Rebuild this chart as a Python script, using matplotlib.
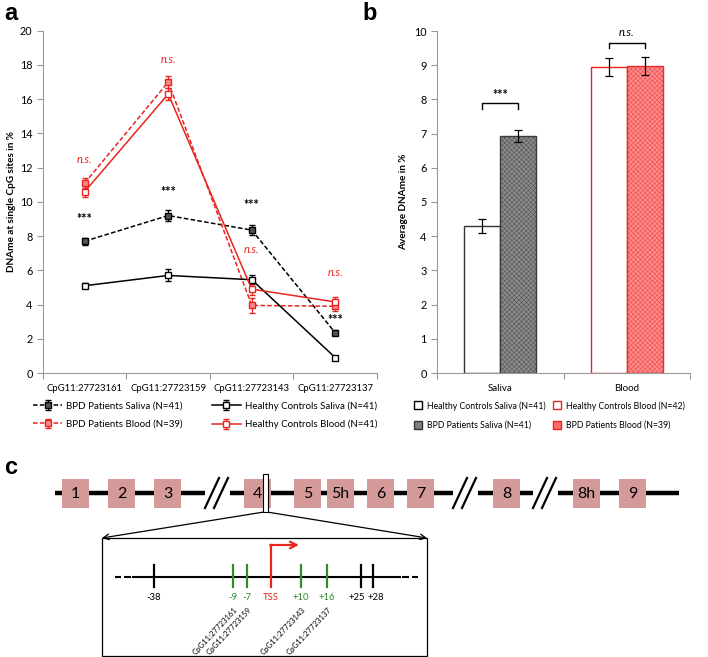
import matplotlib
matplotlib.use("Agg")
import matplotlib.pyplot as plt
from matplotlib.patches import Rectangle
from matplotlib.lines import Line2D
import numpy as np

plt.rcParams['font.family'] = ['Lato', 'DejaVu Sans']
plt.rcParams['hatch.linewidth'] = 0.25

# ---- data panel a ----
sites = ['CpG11:27723161', 'CpG11:27723159', 'CpG11:27723143', 'CpG11:27723137']
bpd_saliva = [7.7, 9.2, 8.35, 2.35]
bpd_saliva_err = [0.2, 0.3, 0.3, 0.15]
hc_saliva = [5.1, 5.7, 5.45, 0.9]
hc_saliva_err = [0.15, 0.35, 0.25, 0.1]
bpd_blood = [11.1, 17.0, 3.95, 3.9]
bpd_blood_err = [0.3, 0.35, 0.45, 0.3]
hc_blood = [10.6, 16.3, 4.9, 4.15]
hc_blood_err = [0.3, 0.35, 0.35, 0.3]
stars_y = [9.0, 10.6, 9.8, 3.1]
ns_y = [12.5, 18.3, 7.2, 5.9]

# ---- data panel b ----
tissues = ['Saliva', 'Blood']
hc_avg = [4.3, 8.95]
hc_avg_err = [0.2, 0.26]
bpd_avg = [6.92, 8.98]
bpd_avg_err = [0.18, 0.26]
sig_b = ['***', 'n.s.']
bracket_y = [7.9, 9.66]

# ---- gene diagram (schematic, pixel units) ----
exon_labels = ['1', '2', '3', '4', '5', '5h', '6', '7', '8', '8h', '9']
exon_x = [62, 108, 154, 244, 294, 327, 367, 407, 493, 573, 619]
breaks_x = [205, 453, 533]
site_labels = ['-38', '-9', '-7', 'TSS', '+10', '+16', '+25', '+28']
site_x = [154, 233, 247, 271, 301, 327, 361, 373]
site_label_x = [154, 233, 247, 271, 301, 327, 357, 376]
site_col = ['black', 'g', 'g', 'r', 'g', 'g', 'black', 'black']
cpg_names = ['CpG11:27723161', 'CpG11:27723159', 'CpG11:27723143', 'CpG11:27723137']
cpg_x = [233, 247, 301, 327]

W, H = 708, 657
GREEN = '#2e8b2e'
RED = '#e8251f'


def rect(x0, y0, x1, y1):
    return [x0 / W, 1 - y1 / H, (x1 - x0) / W, (y1 - y0) / H]


fig = plt.figure(figsize=(W / 100, H / 100), dpi=100)

# diagram axes in pixel coordinates
axc = fig.add_axes([0, 0, 1, 1])
axc.set_xlim(0, W)
axc.set_ylim(H, 0)
axc.axis('off')

ax = fig.add_axes(rect(43, 30.7, 377, 373))
axb = fig.add_axes(rect(437, 31, 690, 373))

# ================= panel a =================
x = np.arange(1, 5)
dash = (0, (3, 1.5))
ax.errorbar(x, bpd_saliva, yerr=bpd_saliva_err, color='black', ls=dash, lw=1.1,
            marker='s', ms=4.5, mfc='#555555', mec='black', capsize=2, elinewidth=0.9,
            label='BPD Patients Saliva (N=41)', zorder=3)
ax.errorbar(x, bpd_blood, yerr=bpd_blood_err, color=RED, ls=dash, lw=1.1,
            marker='s', ms=4.5, mfc='#f48a8a', mec=RED, capsize=2, elinewidth=0.9,
            label='BPD Patients Blood (N=39)', zorder=3)
ax.errorbar(x, hc_saliva, yerr=hc_saliva_err, color='black', ls='-', lw=1.1,
            marker='s', ms=4.5, mfc='white', mec='black', capsize=2, elinewidth=0.9,
            label='Healthy Controls Saliva (N=41)', zorder=3)
ax.errorbar(x, hc_blood, yerr=hc_blood_err, color=RED, ls='-', lw=1.1,
            marker='s', ms=4.5, mfc='white', mec=RED, capsize=2, elinewidth=0.9,
            label='Healthy Controls Blood (N=41)', zorder=3)

for xi, sy, ny in zip(x, stars_y, ns_y):
    ax.text(xi, sy, '***', ha='center', va='center', fontsize=9, fontweight='bold')
    ax.text(xi, ny, 'n.s.', ha='center', va='center', fontsize=8, style='italic', color=RED)

ax.set_xlim(0.5, 4.5)
ax.set_ylim(0, 20)
ax.set_yticks(range(0, 21, 2))
ax.set_xticks([0.5, 1.5, 2.5, 3.5, 4.5])
ax.set_xticklabels([])
ax.set_xticks(x, minor=True)
ax.set_xticklabels(sites, minor=True, fontsize=6.8)
ax.tick_params(axis='x', which='minor', length=0, pad=8)
ax.tick_params(axis='x', which='major', length=4, color='#999999', direction='out')
ax.tick_params(axis='y', length=4, color='#999999', labelsize=7.8)
for s in ['top', 'right']:
    ax.spines[s].set_visible(False)
for s in ['left', 'bottom']:
    ax.spines[s].set_color('#999999')
ax.set_ylabel('DNAme at single CpG sites in %', fontsize=7.2, fontweight='bold', labelpad=3)

h, l = ax.get_legend_handles_labels()
fig.legend(h, l, loc='upper left', bbox_to_anchor=(33 / W, 1 - 401 / H), ncol=2,
           frameon=False, fontsize=7, handlelength=3.0, handletextpad=0.4,
           columnspacing=3.0, labelspacing=0.95, borderpad=0, borderaxespad=0)

# ================= panel b =================
xb = np.arange(len(tissues))
bw = 0.285
ekw = dict(ecolor='black', capsize=3, elinewidth=0.9, capthick=0.9)
axb.bar(xb[0] - bw / 2, hc_avg[0], bw, yerr=hc_avg_err[0], color='white', edgecolor='#333333',
        lw=1, error_kw=ekw, label='Healthy Controls Saliva (N=41)')
axb.bar(xb[0] + bw / 2, bpd_avg[0], bw, yerr=bpd_avg_err[0], color='#8a8a8a', edgecolor='#3a3a3a',
        hatch='xxxxxxx', lw=1, error_kw=ekw, label='BPD Patients Saliva (N=41)')
axb.bar(xb[1] - bw / 2, hc_avg[1], bw, yerr=hc_avg_err[1], color='white', edgecolor=RED,
        lw=1, error_kw=ekw, label='Healthy Controls Blood (N=42)')
axb.bar(xb[1] + bw / 2, bpd_avg[1], bw, yerr=bpd_avg_err[1], color='#ff8a8a', edgecolor='#e03030',
        hatch='xxxxxxx', lw=1, error_kw=ekw, label='BPD Patients Blood (N=39)')

for i, (s, top) in enumerate(zip(sig_b, bracket_y)):
    axb.plot([i - bw / 2, i - bw / 2, i + bw / 2, i + bw / 2], [top - 0.17, top, top, top - 0.17],
             color='black', lw=1)
    if s == '***':
        axb.text(i, top + 0.22, s, ha='center', va='center', fontsize=9, fontweight='bold')
    else:
        axb.text(i, top + 0.3, s, ha='center', va='center', fontsize=8, style='italic')

axb.set_xlim(-0.5, 1.5)
axb.set_ylim(0, 10)
axb.set_yticks(range(0, 11))
axb.set_xticks([-0.5, 0.5, 1.5])
axb.set_xticklabels([])
axb.set_xticks(xb, minor=True)
axb.set_xticklabels(tissues, minor=True, fontsize=7)
axb.tick_params(axis='x', which='minor', length=0, pad=8)
axb.tick_params(axis='x', which='major', length=4, color='#999999')
axb.tick_params(axis='y', length=4, color='#999999', labelsize=7.8)
for s in ['top', 'right']:
    axb.spines[s].set_visible(False)
for s in ['left', 'bottom']:
    axb.spines[s].set_color('#999999')
axb.set_ylabel('Average DNAme in %', fontsize=7.2, fontweight='bold', labelpad=4)

hb = [Line2D([], [], ls='none', marker='s', ms=6, mfc='white', mec='black'),
      Line2D([], [], ls='none', marker='s', ms=6, mfc='#808080', mec='#333333'),
      Line2D([], [], ls='none', marker='s', ms=6, mfc='white', mec=RED),
      Line2D([], [], ls='none', marker='s', ms=6, mfc='#ff6b6b', mec=RED)]
lb = axb.get_legend_handles_labels()[1]
fig.legend(hb, lb, loc='upper left', bbox_to_anchor=(414 / W, 1 - 401 / H), ncol=2,
           frameon=False, fontsize=6.3, handlelength=1.0, handletextpad=0.5,
           columnspacing=0.8, labelspacing=1.15, borderpad=0, borderaxespad=0)

# panel letters
fig.text(4 / W, 1 - 14 / H, 'a', fontsize=17, fontweight='bold', va='center', family='Liberation Sans')
fig.text(362 / W, 1 - 14 / H, 'b', fontsize=17, fontweight='bold', va='center', family='Liberation Sans')
fig.text(4 / W, 1 - 467 / H, 'c', fontsize=17, fontweight='bold', va='center', family='Liberation Sans')

# ================= panel c =================
ly = 493
seg_x = [55] + [b for bx in breaks_x for b in (bx, bx + 25)] + [679]
for i in range(0, len(seg_x), 2):
    axc.plot([seg_x[i], seg_x[i + 1]], [ly, ly], color='black', lw=3.2, solid_capstyle='butt', zorder=1)
for bx in breaks_x:
    for off in (0, 9):
        axc.plot([bx + off, bx + off + 14], [ly + 15, ly - 15], color='black', lw=1.6, zorder=2)
for lab, ex in zip(exon_labels, exon_x):
    axc.add_patch(Rectangle((ex, 479), 27, 29, facecolor='#d49a9a', edgecolor='none', zorder=2))
    axc.text(ex + 13.5, 494, lab, ha='center', va='center', fontsize=11.5, zorder=3)

# zoom window on exon 4
axc.add_patch(Rectangle((263, 474), 5, 38, facecolor='white', edgecolor='black', lw=0.8, zorder=4))
axc.annotate('', xy=(102, 538), xytext=(264, 512),
             arrowprops=dict(arrowstyle='->', color='black', lw=0.9, shrinkA=0, shrinkB=0))
axc.annotate('', xy=(427, 538), xytext=(267, 512),
             arrowprops=dict(arrowstyle='->', color='black', lw=0.9, shrinkA=0, shrinkB=0))
axc.add_patch(Rectangle((102, 538), 325, 118, facecolor='none', edgecolor='black', lw=0.9))

iy = 577
axc.plot([133, 400], [iy, iy], color='black', lw=1.5)
for d0, d1 in [(115, 121), (124, 131), (402, 409), (412, 418)]:
    axc.plot([d0, d1], [iy, iy], color='black', lw=1.5, solid_capstyle='butt')
for lab, sx, lx, c in zip(site_labels, site_x, site_label_x, site_col):
    col = GREEN if c == 'g' else (RED if c == 'r' else 'black')
    top = 545 if lab == 'TSS' else 565
    axc.plot([sx, sx], [top, 587], color=col, lw=1.6)
    axc.text(lx, 597, lab, ha='center', va='center', fontsize=6.8, color=col)
axc.annotate('', xy=(299, 545), xytext=(270.2, 545),
             arrowprops=dict(arrowstyle='->', color=RED, lw=1.6, shrinkA=0, shrinkB=0,
                             mutation_scale=12))
for name, cx in zip(cpg_names, cpg_x):
    axc.text(cx + 3, 608, name, ha='right', va='center', fontsize=5.6, rotation=47,
             rotation_mode='anchor')

fig.savefig('out.png', dpi=100)
